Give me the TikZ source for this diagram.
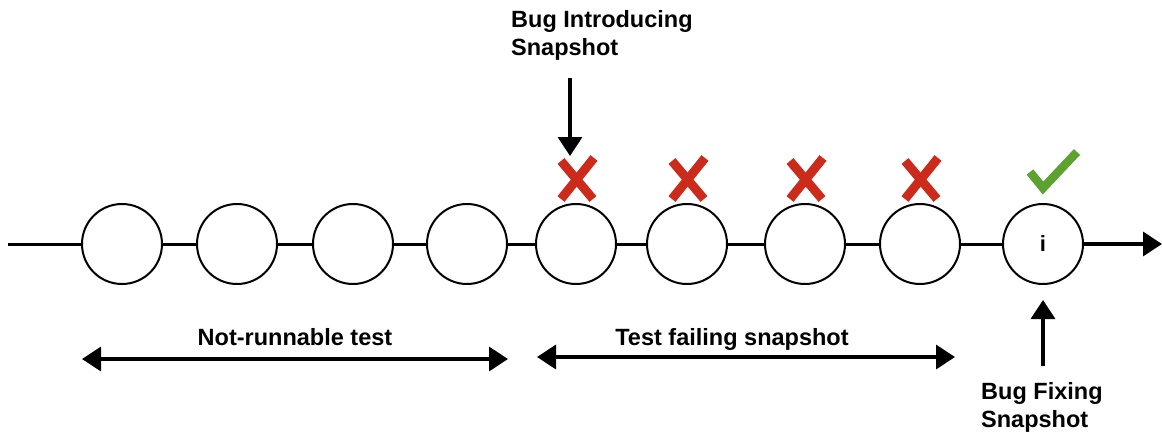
\documentclass[tikz,border=0pt]{standalone}
\usepackage{fontspec}
\setmainfont{Liberation Sans}
\usetikzlibrary{arrows.meta}
\definecolor{xred}{HTML}{CC2B1B}
\definecolor{okgreen}{HTML}{5DA22F}
\tikzset{
  snap/.style={circle, draw, line width=2pt, minimum size=80pt, inner sep=0pt, fill=white},
  lbl/.style={font=\fontsize{23.5pt}{28pt}\selectfont\bfseries, align=left},
  axis/.style={line width=3pt},
  arr/.style={line width=3.5pt, -{Triangle[length=19pt,width=24pt]}},
  darr/.style={line width=3.5pt, {Triangle[length=19pt,width=24pt]}-{Triangle[length=19pt,width=24pt]}},
  cross/.style={xred, line width=9pt, line cap=butt},
  tick/.style={okgreen, line width=8.5pt}
}
\begin{document}
\begin{tikzpicture}[x=1pt,y=-1pt]
\useasboundingbox (0,0) rectangle (1162,434);
\coordinate (start) at (8,244);
\coordinate (end) at (1162,244);
\foreach \i/\x in {1/122,2/237,3/353,4/467,5/576,6/687,7/805,8/920}{
  \node[snap] (c\i) at (\x,244) {};
}
\node[snap] (c9) at (1043,244) {\fontsize{22pt}{24pt}\selectfont\bfseries i};
\draw[axis] (start) -- (c1);
\foreach \a/\b in {1/2,2/3,3/4,4/5,5/6,6/7,7/8,8/9}{
  \draw[axis] (c\a) -- (c\b);
}
\draw[arr] (c9) -- (end);
% crosses
\foreach \x in {577,688,806,921}{
  \draw[cross] (\x-16,199) -- (\x+17,158);
  \draw[cross] (\x-16,161) -- (\x+16,199);
}
% check
\draw[tick, line join=miter] (1030,172) -- (1043,188) -- (1077,152);
% top label
\node[lbl, anchor=north west, inner sep=0pt] (bis) at (511,10) {Bug Introducing\\Snapshot};
\coordinate (bisA) at (570,78);
\coordinate (bisB) at (570,156);
\draw[arr] (bisA) -- (bisB);
% bottom label
\node[lbl, anchor=north west, inner sep=0pt] (bfs) at (981,382) {Bug Fixing\\Snapshot};
\coordinate (bfsA) at (1043,366);
\coordinate (bfsB) at (1043,300);
\draw[arr] (bfsA) -- (bfsB);
% ranges
\coordinate (nrA) at (82,359);
\coordinate (nrB) at (508,359);
\draw[darr] (nrA) -- (nrB);
\node[lbl, anchor=base] (nrl) at (295,345) {Not-runnable test};
\coordinate (tfA) at (537,357);
\coordinate (tfB) at (955,357);
\draw[darr] (tfA) -- (tfB);
\node[lbl, anchor=base] (tfl) at (732,345) {Test failing snapshot};
\end{tikzpicture}
\end{document}
